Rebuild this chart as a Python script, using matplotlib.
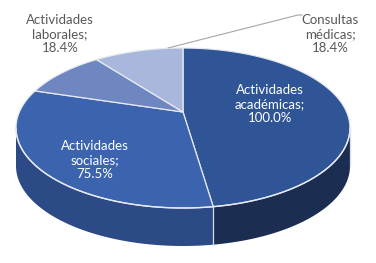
import numpy as np
import matplotlib
matplotlib.use('Agg')
import matplotlib.pyplot as plt
from matplotlib.patches import Polygon

# data
names = ['Actividades\nacadémicas', 'Actividades\nsociales',
         'Actividades\nlaborales', 'Consultas\nmédicas']
values = [100.0, 75.5, 18.4, 18.4]
top_colors = ['#2f5597', '#3c64ae', '#6e87c1', '#a8b7db']
side_colors = ['#1b2d50', '#2b4a86', '#4f669c', '#7c8bb0']

# pie geometry (pixel space)
cx, cy = 183, 128
a, b = 167, 80
apex = (183, 112)
depth = 38


def rim(p1, p2, dy=0, n=80):
    phi = np.radians(np.linspace(p1, p2, n))
    return np.column_stack([cx + a * np.sin(phi), cy - b * np.cos(phi) + dy])


fig = plt.figure(figsize=(3.76, 2.63), dpi=100)
ax = fig.add_axes([0, 0, 1, 1])
ax.set_xlim(0, 376)
ax.set_ylim(263, 0)
ax.axis('off')

bounds = np.concatenate([[0], np.cumsum(values) / np.sum(values) * 360])

# side walls (only the front half is visible)
for i in range(len(values)):
    p1, p2 = max(bounds[i], 90), min(bounds[i + 1], 270)
    if p2 <= p1:
        continue
    top = rim(p1, p2)
    bot = rim(p2, p1, dy=depth)
    ax.add_patch(Polygon(np.vstack([top, bot]), closed=True,
                         facecolor=side_colors[i], edgecolor='none'))
    ax.plot([top[0, 0], top[0, 0]], [top[0, 1], top[0, 1] + depth],
            color='#d9dde8', lw=0.9)

# top faces
for i in range(len(values)):
    pts = np.vstack([[apex], rim(bounds[i], bounds[i + 1])])
    ax.add_patch(Polygon(pts, closed=True, facecolor=top_colors[i],
                         edgecolor='#e6e9f0', lw=0.9))

front = rim(90, 270)
ax.plot(front[:, 0], front[:, 1], color='#e6e9f0', lw=1.0)

font = 'Lato'
lab = [f'{n};\n{v:.1f}%' for n, v in zip(names, values)]
ax.text(270, 104, lab[0], color='white', ha='center', va='center',
        fontsize=9.5, family=font, linespacing=1.25)
ax.text(95, 160, lab[1], color='white', ha='center', va='center',
        fontsize=9.5, family=font, linespacing=1.25)
ax.text(60, 34, lab[2], color='#595959', ha='center', va='center',
        fontsize=9.5, family=font, linespacing=1.25)
ax.text(330, 34, lab[3], color='#595959', ha='center', va='center',
        fontsize=9.5, family=font, linespacing=1.25)

# leader line for the small slice
mid = rim((bounds[3] + bounds[4]) / 2, (bounds[3] + bounds[4]) / 2, n=1)[0]
ax.plot([mid[0] + 30, 298, 302], [mid[1] - 3, 15, 15], color='#a6a6a6', lw=0.8)

fig.savefig('out.png', dpi=100)
